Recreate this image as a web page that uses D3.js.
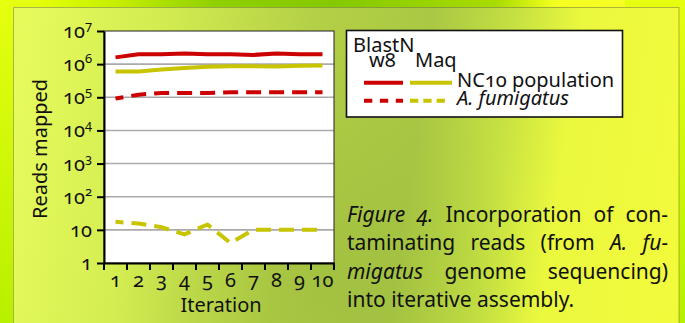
<!DOCTYPE html>
<html>
<head>
<meta charset="utf-8">
<script src="https://cdn.jsdelivr.net/npm/d3@7"></script>
<style>
  body { margin: 0; background: #e8fc20; }
  svg { display: block; font-family: "Noto Sans", "Open Sans", sans-serif; font-variant-numeric: oldstyle-nums; }
  text { fill: #111; }
</style>
</head>
<body>
<script>
// Reads mapped per assembly iteration (log scale)
const iterations = [1, 2, 3, 4, 5, 6, 7, 8, 9, 10];
const blastnNC10 = [1.6e6, 2.0e6, 2.0e6, 2.1e6, 2.0e6, 2.0e6, 1.9e6, 2.1e6, 2.0e6, 2.0e6];
const maqNC10    = [6.0e5, 6.0e5, 6.9e5, 7.6e5, 8.4e5, 8.6e5, 8.6e5, 8.5e5, 9.0e5, 9.1e5];
const blastnAfum = [9.2e4, 1.2e5, 1.35e5, 1.35e5, 1.35e5, 1.42e5, 1.42e5, 1.42e5, 1.42e5, 1.42e5];
const maqAfum    = [17.5, 15.5, 12, 7.3, 14.5, 4, 10, 10, 10, 10];
const yTicks = [1, 10, 1e2, 1e3, 1e4, 1e5, 1e6, 1e7];

const W = 685, H = 323;
const RED = "#cc0000", YEL = "#c8c400";

const svg = d3.select("body").append("svg").attr("width", W).attr("height", H);
const defs = svg.append("defs");

// backdrop gradients
const outer = defs.append("linearGradient").attr("id", "outer").attr("x1", 0).attr("x2", 1).attr("y1", 0).attr("y2", 0);
[[0, "#e4ff08"], [0.12, "#c8f000"], [0.3, "#90d000"], [0.5, "#84c800"], [0.78, "#a8dc00"], [0.88, "#f4ff20"], [1, "#f8ff24"]]
  .forEach(([o, c]) => outer.append("stop").attr("offset", o).attr("stop-color", c));
const outerV = defs.append("linearGradient").attr("id", "outerV").attr("x1", 0).attr("x2", 0).attr("y1", 0).attr("y2", 1);
[[0, "#e6ff10"], [1, "#b8f000"]].forEach(([o, c]) => outerV.append("stop").attr("offset", o).attr("stop-color", c));

const panel = defs.append("linearGradient").attr("id", "panel")
  .attr("gradientUnits", "userSpaceOnUse").attr("x1", 13).attr("y1", 0).attr("x2", 679).attr("y2", 0)
  .attr("gradientTransform", "rotate(8 340 160)");
[[0, "#e6fa5c"], [0.2, "#d2ec50"], [0.42, "#b4d046"], [0.6, "#aac844"], [0.72, "#c4e042"], [0.82, "#eaf83e"], [1, "#f2fa3c"]]
  .forEach(([o, c]) => panel.append("stop").attr("offset", o).attr("stop-color", c));
const shade = defs.append("radialGradient").attr("id", "shade")
  .attr("gradientUnits", "userSpaceOnUse").attr("cx", 320).attr("cy", 280).attr("r", 230)
  .attr("gradientTransform", "translate(320 280) scale(0.9 1.1) translate(-320 -280)");
shade.append("stop").attr("offset", 0).attr("stop-color", "#8fb03a").attr("stop-opacity", 0.4);
shade.append("stop").attr("offset", 1).attr("stop-color", "#8fb03a").attr("stop-opacity", 0);

svg.append("rect").attr("width", W).attr("height", H).attr("fill", "url(#outerV)");
svg.append("rect").attr("x", 40).attr("width", W - 100).attr("height", 10).attr("fill", "url(#outer)");
svg.append("rect").attr("x", 13).attr("y", 7).attr("width", 666).attr("height", H).attr("fill", "url(#panel)");
svg.append("rect").attr("x", 13).attr("y", 7).attr("width", 666).attr("height", H).attr("fill", "url(#shade)");
svg.append("rect").attr("x", 13.5).attr("y", 7.5).attr("width", 665.5).attr("height", H)
  .attr("fill", "none").attr("stroke", "rgba(90,100,40,0.45)").attr("stroke-width", 1);

// scales
const plotL = 104, plotR = 334, plotT = 31, plotB = 263;
const y = d3.scaleLog().domain([1, 1e7]).range([plotB, plotT]);
const x = d3.scaleBand().domain(iterations).range([plotL, plotR]);
const cx = d => x(d) + x.bandwidth() / 2;

// plot area
svg.append("rect").attr("x", plotL).attr("y", plotT).attr("width", plotR - plotL).attr("height", plotB - plotT)
  .attr("fill", "#fff");
svg.append("g").selectAll("line").data(yTicks.slice(1, -1)).join("line")
  .attr("x1", plotL).attr("x2", plotR).attr("y1", d => y(d)).attr("y2", d => y(d))
  .attr("stroke", "#aaaaaa").attr("stroke-width", 1.6);
svg.append("rect").attr("x", plotL).attr("y", plotT).attr("width", plotR - plotL).attr("height", plotB - plotT)
  .attr("fill", "none").attr("stroke", "#222").attr("stroke-width", 1);

// y axis
const yAxis = svg.append("g").attr("transform", `translate(${plotL},0)`)
  .call(d3.axisLeft(y).tickValues(yTicks).tickSize(7).tickSizeOuter(0).tickPadding(5).tickFormat(""))
  .attr("font-family", null).attr("font-size", 20);
yAxis.select(".domain").attr("stroke", "#000").attr("stroke-width", 2);
yAxis.selectAll(".tick line").attr("stroke", "#000").attr("stroke-width", 2);
yAxis.selectAll(".tick text").attr("dy", 6.5)
  .each(function (d) {
    const t = d3.select(this);
    const e = Math.round(Math.log10(d));
    if (e <= 1) { t.text(d); return; }
    t.append("tspan").text("10");
    t.append("tspan").attr("dy", -8).attr("font-size", 13).text(e);
  });

// x axis
const xAxis = svg.append("g").attr("transform", `translate(0,${plotB})`)
  .call(d3.axisBottom(x).tickSize(0).tickSizeOuter(0).tickPadding(0))
  .attr("font-family", null).attr("font-size", 20);
xAxis.select(".domain").attr("stroke", "#000").attr("stroke-width", 2);
xAxis.selectAll(".tick text").attr("y", 24).attr("dy", 0);
xAxis.selectAll(".edge").data(d3.range(iterations.length + 1)).join("line")
  .attr("x1", i => plotL + i * x.bandwidth()).attr("x2", i => plotL + i * x.bandwidth())
  .attr("y1", 0).attr("y2", 7).attr("stroke", "#000").attr("stroke-width", 2);

// axis titles
svg.append("text").attr("transform", "translate(47,149) rotate(-90)").attr("text-anchor", "middle")
  .attr("font-size", 20).text("Reads mapped");
svg.append("text").attr("x", 221).attr("y", 312).attr("text-anchor", "middle")
  .attr("font-size", 20).text("Iteration");

// series
const series = [
  { values: blastnNC10, color: RED, dash: null },
  { values: maqNC10, color: YEL, dash: null },
  { values: blastnAfum, color: RED, dash: "15 8" },
  { values: maqAfum, color: YEL, dash: "15 8" }
];
const line = d3.line().x((d, i) => cx(iterations[i])).y(d => y(d));
svg.append("g").selectAll("path").data(series).join("path")
  .attr("d", s => line(s.values))
  .attr("fill", "none").attr("stroke", s => s.color).attr("stroke-width", 4)
  .attr("stroke-linejoin", "round")
  .attr("stroke-dasharray", s => s.dash).attr("stroke-dashoffset", s => s.dash ? 7 : null);

// legend
const lg = svg.append("g");
lg.append("rect").attr("x", 346.5).attr("y", 30.5).attr("width", 276).attr("height", 86.5)
  .attr("fill", "#fff").attr("stroke", "#111").attr("stroke-width", 1.6);
lg.append("text").attr("x", 353).attr("y", 52).attr("font-size", 20).text("BlastN");
lg.append("text").attr("x", 369).attr("y", 67).attr("font-size", 20).text("w8");
lg.append("text").attr("x", 415).attr("y", 67).attr("font-size", 20).text("Maq");
const legendRows = [
  { label: "NC10 population", italic: false, y: 82.7, ty: 87,
    marks: [{ x1: 364, x2: 403, color: RED, dash: null }, { x1: 410, x2: 452, color: YEL, dash: null }] },
  { label: "A. fumigatus", italic: true, y: 100.7, ty: 105,
    marks: [{ x1: 364, x2: 403, color: RED, dash: "8.3 7.6" }, { x1: 410, x2: 445, color: YEL, dash: "8.3 5" }] }
];
legendRows.forEach(r => {
  r.marks.forEach(m => lg.append("line").attr("x1", m.x1).attr("x2", m.x2).attr("y1", r.y).attr("y2", r.y)
    .attr("stroke", m.color).attr("stroke-width", 4).attr("stroke-dasharray", m.dash));
  lg.append("text").attr("x", 457).attr("y", r.ty).attr("font-size", 20)
    .attr("font-style", r.italic ? "italic" : null).text(r.label);
});

// caption, justified
const captionLines = [
  { words: [["Figure", 1], ["4.", 1], ["Incorporation", 0], ["of", 0], ["con-", 0]], justify: true },
  { words: [["taminating", 0], ["reads", 0], ["(from", 0], ["A.", 1], ["fu-", 1]], justify: true },
  { words: [["migatus", 1], ["genome", 0], ["sequencing)", 0]], justify: true },
  { words: [["into", 0], ["iterative", 0], ["assembly.", 0]], justify: false }
];
const capL = 347, capR = 668, capY0 = 222, capStep = 28.3, capSize = 21;
const cap = svg.append("g").attr("font-size", capSize);
captionLines.forEach((ln, li) => {
  const t = cap.append("text").attr("y", capY0 + li * capStep);
  const spans = ln.words.map(([w, it]) => t.append("tspan").attr("font-style", it ? "italic" : null).text(w));
  const widths = spans.map(s => s.node().getComputedTextLength());
  const total = d3.sum(widths);
  const gap = ln.justify ? (capR - capL - total) / (spans.length - 1) : capSize * 0.26;
  let xx = capL;
  spans.forEach((s, i) => { s.attr("x", xx); xx += widths[i] + gap; });
});
</script>
</body>
</html>
